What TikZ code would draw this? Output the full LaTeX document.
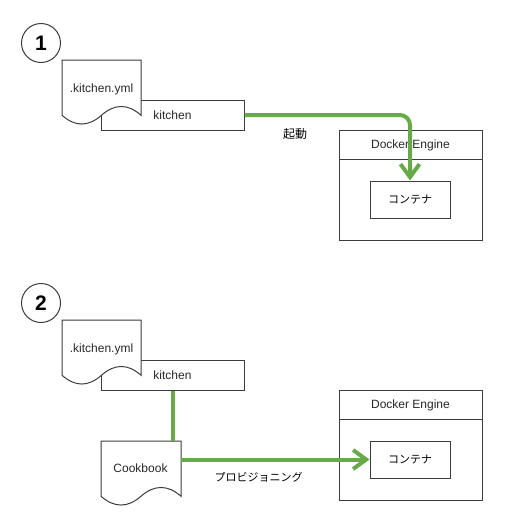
\documentclass[tikz,border=0pt]{standalone}
\usepackage{fontspec}
\setmainfont{Liberation Sans}
\newfontfamily\jpfont{Noto Sans CJK JP}
\usetikzlibrary{arrows.meta}
\definecolor{lnk}{RGB}{104,170,72}
\definecolor{bord}{RGB}{60,60,60}
\definecolor{txt}{RGB}{40,40,40}
\newcommand\docshape[4]{\path[draw=bord,fill=white,line width=1pt] (#1,#2) -- (#1+#3,#2) -- (#1+#3,#2+0.85*#4) .. controls (#1+0.8333*#3,#2+0.67*#4) and (#1+0.6667*#3,#2+0.67*#4) .. (#1+0.5*#3,#2+0.85*#4) .. controls (#1+0.3333*#3,#2+1.03*#4) and (#1+0.1667*#3,#2+1.03*#4) .. (#1,#2+0.85*#4) -- cycle;}
\begin{document}
\begin{tikzpicture}[x=1pt,y=-1pt,
  box/.style={draw=bord, fill=white, line width=1pt, inner sep=0pt, font=\fontsize{12}{14}\selectfont, text=txt},
  txtnode/.style={inner sep=0pt, font=\fontsize{12}{14}\selectfont, text=txt},
  jp/.style={inner sep=0pt, text=black, font=\jpfont\fontsize{#1}{#1}\selectfont},
  num/.style={draw=bord, line width=1pt, circle, minimum size=39pt, inner sep=0pt, font=\bfseries\fontsize{21}{23}\selectfont},
  docarea/.style={inner sep=0pt, minimum width=#1, minimum height=65pt},
  link/.style={draw=lnk, line width=4pt},
  flow/.style={link, -{Straight Barb[length=13pt,width=19pt]}}
]
\useasboundingbox (0,0) rectangle (532,520);

% ---------- panel 1 ----------
\node[num] (n1) at (41,43) {1};
\node[box, minimum width=143pt, minimum height=30pt] (kit1) at (172.5,115) {kitchen};
\docshape{62}{60}{79}{65}
\node[docarea=79pt] (yml1) at (101.5,92.5) {};
\node[txtnode] (yml1t) at (101.5,89) {.kitchen.yml};
\node[box, minimum width=143pt, minimum height=110pt] (dock1) at (410.5,185) {};
\node[box, minimum width=143pt, minimum height=29pt] (dock1h) at (410.5,145) {Docker Engine};
\node[box, minimum width=80pt, minimum height=37pt, jp=11] (cont1) at (410,199.5) {コンテナ};
\draw[flow, rounded corners=10pt] (kit1.east) -| (cont1.north);
\node[jp=12] (l1) at (295,133.5) {起動};

% ---------- panel 2 ----------
\node[num] (n2) at (41,303) {2};
\node[box, minimum width=143pt, minimum height=30pt] (kit2) at (172.5,375) {kitchen};
\docshape{62}{320}{79}{65}
\node[docarea=79pt] (yml2) at (101.5,352.5) {};
\node[txtnode] (yml2t) at (101.5,349) {.kitchen.yml};
\docshape{101}{441}{80}{65}
\node[docarea=80pt] (cook) at (141,473.5) {};
\node[txtnode] (cookt) at (140.5,468) {Cookbook};
\node[box, minimum width=143pt, minimum height=110pt] (dock2) at (410.5,445) {};
\node[box, minimum width=143pt, minimum height=29pt] (dock2h) at (410.5,405) {Docker Engine};
\node[box, minimum width=80pt, minimum height=37pt, jp=11] (cont2) at (410,459.5) {コンテナ};
\draw[link] (kit2.south) -- (kit2.south |- cook.north);
\draw[flow] (cont2.west -| cook.east) -- (cont2.west);
\node[jp=11] (l2) at (258.5,477) {プロビジョニング};
\end{tikzpicture}
\end{document}
